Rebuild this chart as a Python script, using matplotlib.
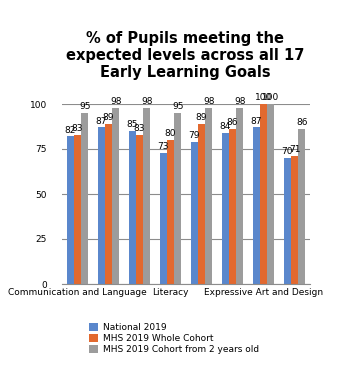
import matplotlib.pyplot as plt
import numpy as np

# Data
tick_labels = ['Communication and Language', '', '', 'Literacy', '', '',
               'Expressive Art and Design', '']
series = ['National 2019', 'MHS 2019 Whole Cohort', 'MHS 2019 Cohort from 2 years old']
national = [82, 87, 85, 73, 79, 84, 87, 70]
whole_cohort = [83, 89, 83, 80, 89, 86, 100, 71]
from_two = [95, 98, 98, 95, 98, 98, 100, 86]

colors = ['#5A87CC', '#E2692F', '#9C9C9C']

fig = plt.figure(figsize=(3.37, 3.65), dpi=100)
ax = fig.add_axes([62/337, 1 - 284/365, 248/337, 180/365])

x = np.arange(len(national))
width = 0.23
for i, (vals, name) in enumerate(zip([national, whole_cohort, from_two], series)):
    pos = x + (i - 1) * width
    ax.bar(pos, vals, width, color=colors[i], label=name, zorder=2)
    for p, v in zip(pos, vals):
        ax.text(p, v + 1, str(v), ha='center', va='bottom', fontsize=6.5, color='black')

ax.set_xlim(-0.5, len(national) - 0.5)
ax.set_ylim(0, 100)
ax.set_yticks([0, 25, 50, 75, 100])
ax.tick_params(axis='y', labelsize=6.5, length=0, pad=11)
ax.set_xticks(x)
ax.set_xticklabels(tick_labels, fontsize=6.5)
ax.tick_params(axis='x', length=0, pad=3)
ax.grid(axis='y', color='#8C8C8C', linewidth=0.8, zorder=0)
for s in ['top', 'right', 'left']:
    ax.spines[s].set_visible(False)
ax.spines['bottom'].set_color('#8C8C8C')

fig.text(0.55, 1 - 31/365, '% of Pupils meeting the\nexpected levels across all 17\nEarly Learning Goals',
         ha='center', va='top', fontsize=10.5, fontweight='bold', linespacing=1.15)

fig.legend(loc='upper left', bbox_to_anchor=(84/337, 1 - 318/365), frameon=False,
           fontsize=6.5, handlelength=1.0, handleheight=1.0, handletextpad=0.6,
           labelspacing=0.25, borderpad=0)

fig.savefig('out.png', dpi=100)
